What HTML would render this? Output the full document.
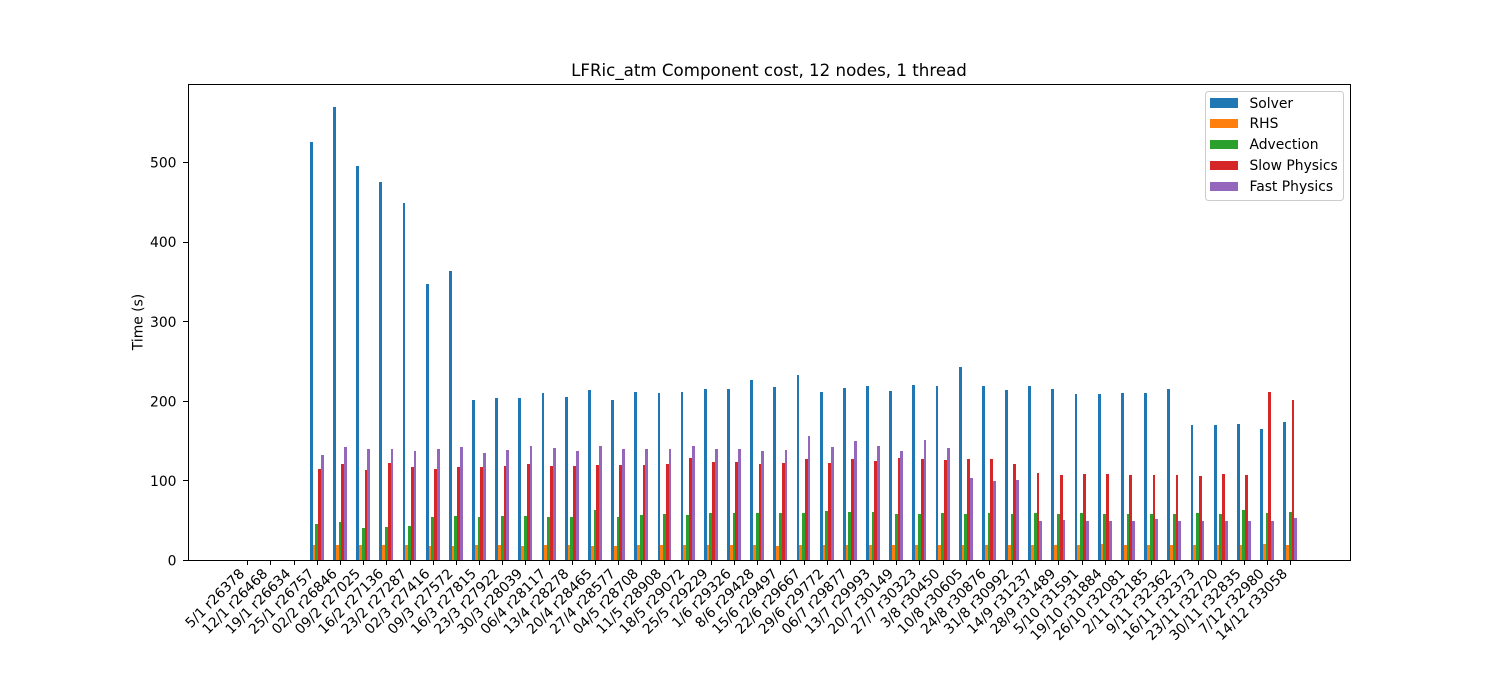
<!DOCTYPE html>
<html lang="en">
<head>
<meta charset="utf-8">
<title>LFRic_atm Component cost</title>
<style>
html,body{margin:0;padding:0;background:#fff;width:1500px;height:700px;overflow:hidden}
svg{display:block}
text{font-family:"DejaVu Sans","Liberation Sans",sans-serif;fill:#000}
</style>
</head>
<body>
<svg id="chart" xmlns="http://www.w3.org/2000/svg" width="1500" height="700" viewBox="0 0 1500 700">
<rect x="0" y="0" width="1500" height="700" fill="#fff"/>
<text x="769" y="76" font-size="16.67" text-anchor="middle">LFRic_atm Component cost, 12 nodes, 1 thread</text>
<text x="0" y="0" font-size="13.89" text-anchor="middle" transform="translate(142.5 322) rotate(-90)">Time (s)</text>
<g id="bars"></g>
<g id="xticks"></g>
<g id="yticks"></g>
<g shape-rendering="crispEdges">
<rect x="188" y="84" width="1" height="477" fill="#000"/>
<rect x="1350" y="84" width="1" height="477" fill="#000"/>
<rect x="188" y="84" width="1163" height="1" fill="#000"/>
<rect x="188" y="560" width="1163" height="1" fill="#000"/>
</g>
<g id="legend">
<rect x="1205.5" y="91.5" width="138" height="109" rx="3" ry="3" fill="#fff" fill-opacity="0.8" stroke="#ccc" stroke-width="1"/>
</g>
</svg>
<script>
const categories = ["5/1 r26378","12/1 r26468","19/1 r26634","25/1 r26757","02/2 r26846","09/2 r27025","16/2 r27136","23/2 r27287","02/3 r27416","09/3 r27572","16/3 r27815","23/3 r27922","30/3 r28039","06/4 r28117","13/4 r28278","20/4 r28465","27/4 r28577","04/5 r28708","11/5 r28908","18/5 r29072","25/5 r29229","1/6 r29326","8/6 r29428","15/6 r29497","22/6 r29667","29/6 r29772","06/7 r29877","13/7 r29993","20/7 r30149","27/7 r30323","3/8 r30450","10/8 r30605","24/8 r30876","31/8 r30992","14/9 r31237","28/9 r31489","5/10 r31591","19/10 r31884","26/10 r32081","2/11 r32185","9/11 r32362","16/11 r32373","23/11 r32720","30/11 r32835","7/12 r32980","14/12 r33058"];
const solver = [0,0,0,525.6,569.7,495.4,475.3,448.9,347,363.4,201.6,204,204,210.4,205.4,213.7,201.2,211.2,210,211.2,215,215,226.3,217.5,232.6,211.2,216.3,218.8,212.5,220,218.8,242.7,218.8,213.7,218.8,215,208.7,208.7,210,210,215,169.7,169.7,171,164.7,173.5];
const rhs = [0,0,0,19.3,19.3,19.3,19.3,19.3,18,18,19.3,19.3,18,19.3,19.3,17.6,17.6,18.9,18.9,18.9,18.9,18.9,18.9,17.6,18.9,18.9,18.9,18.9,18.9,18.9,18.9,18.9,18.9,18.9,18.9,18.9,18.9,20.1,18.9,18.9,18.9,18.9,18.9,18.9,20.1,18.9];
const advection = [0,0,0,45.7,48.2,40.7,41.9,43.2,54.5,55.7,54.5,55.7,55.7,54.5,54.5,62.9,54,56.6,57.8,56.6,59,59,59,59,59,61.6,60.4,60.4,57.8,57.8,59,57.8,59,57.8,59,57.8,59,57.8,57.8,57.8,57.8,59,57.8,62.9,59,60.4];
const slowPhysics = [0,0,0,114.8,121,113.6,122.4,117.3,114.8,117.3,117.3,118.6,121,118.6,118.6,119.4,119.4,119.4,120.7,128.2,123.2,123.2,120.7,122,127,122,127,124.5,128.2,127,125.7,127,127,120.7,109.4,106.9,108.1,108.1,106.9,106.9,106.9,105.6,108.1,106.9,211.2,201.2];
const fastPhysics = [0,0,0,132.4,142.5,140,140,137.5,140,142.5,135,138.7,143.8,141.2,137.5,143.3,139.6,139.6,139.6,143.3,139.6,139.6,137,138.3,155.9,142,149.6,143.3,137,150.9,140.8,103,99.3,100.6,48.6,50.3,48.6,48.6,48.6,51.1,48.6,48.6,48.6,48.6,48.6,52.4];
const seriesNames = ["Solver","RHS","Advection","Slow Physics","Fast Physics"];
const seriesValues = [solver,rhs,advection,slowPhysics,fastPhysics];
const seriesColors = ["#1f77b4","#ff7f0e","#2ca02c","#d62728","#9467bd"];
const yTickValues = [0,100,200,300,400,500];

const NS = "http://www.w3.org/2000/svg";
const axLeft = 187.5, axRight = 1350, axTop = 84, axBottom = 560;
const barWidth = 0.12;
const xMargin = 0.05, yMargin = 0.05;
const xMinData = -2.5 * barWidth, xMaxData = categories.length - 1 + 2.5 * barWidth;
const xPad = (xMaxData - xMinData) * xMargin;
const xLo = xMinData - xPad, xHi = xMaxData + xPad;
const yHi = Math.max.apply(null, seriesValues.map(function (s) { return Math.max.apply(null, s); })) * (1 + yMargin);
function xScale(v) { return axLeft + (v - xLo) / (xHi - xLo) * (axRight - axLeft); }
function yScale(v) { return axBottom - v / yHi * (axBottom - axTop); }
function make(tag, attrs, parent) {
  const el = document.createElementNS(NS, tag);
  Object.keys(attrs).forEach(function (k) { el.setAttribute(k, attrs[k]); });
  parent.appendChild(el);
  return el;
}

const barsGroup = document.getElementById("bars");
barsGroup.setAttribute("shape-rendering", "crispEdges");
seriesValues.forEach(function (series, s) {
  series.forEach(function (value, i) {
    if (!value) return;
    const left = Math.round(xScale(i + (s - 2.5) * barWidth));
    const right = Math.round(xScale(i + (s - 1.5) * barWidth));
    const top = Math.round(yScale(value));
    const bar = make("rect", { x: left, y: top, width: right - left, height: axBottom - top, fill: seriesColors[s] }, barsGroup);
    
    
  });
});

const xGroup = document.getElementById("xticks");
categories.forEach(function (label, i) {
  const x = xScale(i);
  const tick = make("rect", { x: Math.round(x), y: 560, width: 1, height: 5, fill: "#000", "shape-rendering": "crispEdges" }, xGroup);
  
  
  const text = make("text", { "font-size": "13.89", "text-anchor": "end", transform: "translate(" + (x - 2.1).toFixed(2) + " 574.5) rotate(-45)" }, xGroup);
  text.textContent = label;
  
  
});

const yGroup = document.getElementById("yticks");
yTickValues.forEach(function (v) {
  const y = yScale(v);
  const tick = make("rect", { x: 183, y: Math.round(y), width: 5, height: 1, fill: "#000", "shape-rendering": "crispEdges" }, yGroup);
  
  
  const text = make("text", { x: 176.5, y: (y + 5.5).toFixed(1), "font-size": "13.89", "text-anchor": "end" }, yGroup);
  text.textContent = String(v);
  
  
});

const legendGroup = document.getElementById("legend");
seriesNames.forEach(function (name, s) {
  const top = 98 + Math.round(s * 20.9) + (s > 0 ? 0 : 0);
  const swatchHeight = s > 0 ? 9 : 10;
  const swatch = make("rect", { x: 1210, y: top, width: 28, height: swatchHeight, fill: seriesColors[s], "shape-rendering": "crispEdges" }, legendGroup);
  
  
  const text = make("text", { x: 1249.5, y: top + swatchHeight, "font-size": "13.89" }, legendGroup);
  text.textContent = name;
  
  
});
</script>
</body>
</html>
